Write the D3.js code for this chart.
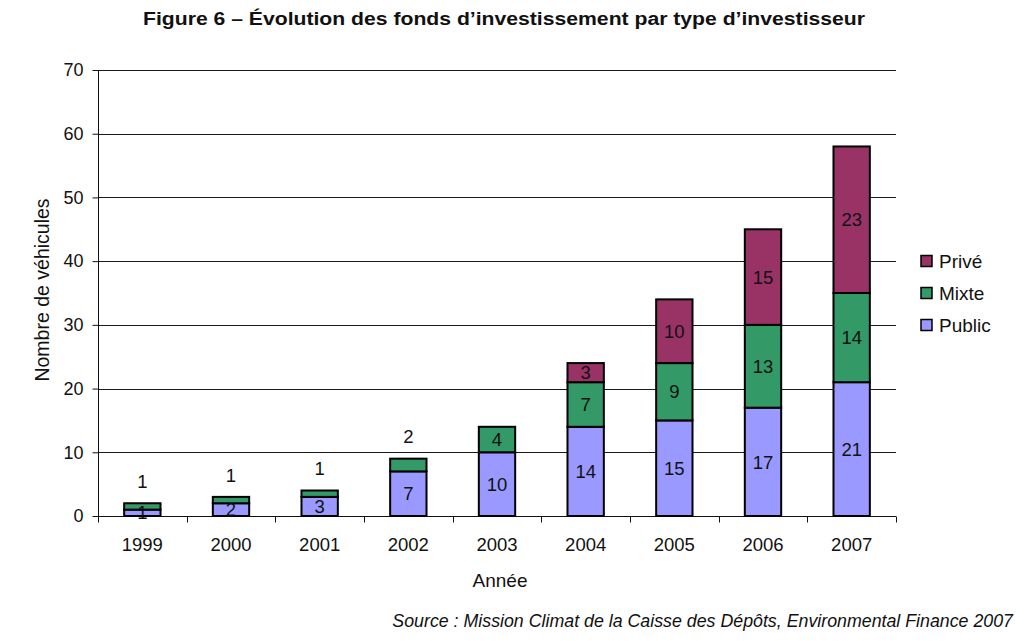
<!DOCTYPE html>
<html>
<head>
<meta charset="utf-8">
<script src="https://cdn.jsdelivr.net/npm/d3@7"></script>
<style>
  body { margin: 0; background: #fff; }
  svg { display: block; }
</style>
</head>
<body>
<div id="chart"></div>
<script>
let years = ["1999", "2000", "2001", "2002", "2003", "2004", "2005", "2006", "2007"];
let series_names = ["Public", "Mixte", "Privé"];
let public_vals = [1, 2, 3, 7, 10, 14, 15, 17, 21];
let mixte_vals = [1, 1, 1, 2, 4, 7, 9, 13, 14];
let prive_vals = [0, 0, 0, 0, 0, 3, 10, 15, 23];
let y_ticks = [0, 10, 20, 30, 40, 50, 60, 70];

let colors = { "Public": "#9999ff", "Mixte": "#339966", "Privé": "#993366" };

let svg_w = 1024, svg_h = 641;
let plot_left = 98, plot_right = 896, plot_top = 70, plot_bottom = 516;
let font = "'Liberation Sans', Arial, sans-serif";
let label_size = "18.5px";

let svg = d3.select("#chart").append("svg")
  .attr("width", svg_w)
  .attr("height", svg_h);

// table for the stack
let rows = years.map((yr, i) => ({ year: yr, "Public": public_vals[i], "Mixte": mixte_vals[i], "Privé": prive_vals[i] }));
let stacked = d3.stack().keys(series_names)(rows);

let x = d3.scaleBand().domain(years).range([plot_left, plot_right]).padding(0);
let y = d3.scaleLinear().domain([0, 70]).range([plot_bottom, plot_top]);
let bar_w = x.bandwidth() * 0.41;

// gridlines
svg.append("g")
  .selectAll("line")
  .data(y_ticks.filter(d => d > 0))
  .join("line")
    .attr("x1", plot_left)
    .attr("x2", plot_right)
    .attr("y1", d => Math.round(y(d)) + 0.5)
    .attr("y2", d => Math.round(y(d)) + 0.5)
    .attr("stroke", "#1a1a1a")
    .attr("stroke-width", 1);

// y axis
let y_axis = svg.append("g")
  .attr("transform", "translate(" + (plot_left + 0.5) + ",0)")
  .call(d3.axisLeft(y).tickValues(y_ticks).tickSize(6).tickPadding(9));
y_axis.selectAll("text").attr("font-family", font).attr("font-size", "18px").attr("fill", "#111");
y_axis.selectAll("line, path").attr("stroke", "#111");
y_axis.select(".domain").attr("d", "M0," + plot_top + "V" + plot_bottom);

// x axis
let x_axis = svg.append("g")
  .attr("transform", "translate(0," + (Math.round(plot_bottom) + 0.5) + ")")
  .call(d3.axisBottom(x).tickSize(0).tickPadding(21));
x_axis.selectAll("text").attr("font-family", font).attr("font-size", label_size).attr("fill", "#111");
x_axis.select(".domain").attr("d", "M" + plot_left + ",0H" + plot_right).attr("stroke", "#111");
// category separator ticks
x_axis.selectAll("line.sep")
  .data(years.map(d => x(d)).concat([plot_right]))
  .join("line")
    .attr("class", "sep")
    .attr("x1", d => Math.round(d) + 0.5)
    .attr("x2", d => Math.round(d) + 0.5)
    .attr("y1", 0)
    .attr("y2", 6)
    .attr("stroke", "#111");

// bars
let layers = svg.append("g")
  .selectAll("g")
  .data(stacked)
  .join("g")
    .attr("fill", d => colors[d.key]);

layers.selectAll("rect")
  .data(d => d.filter(s => s[1] - s[0] > 0))
  .join("rect")
    .attr("x", d => x(d.data.year) + (x.bandwidth() - bar_w) / 2)
    .attr("y", d => y(d[1]))
    .attr("width", bar_w)
    .attr("height", d => y(d[0]) - y(d[1]))
    .attr("stroke", "#000")
    .attr("stroke-width", 2);

// data labels
let label_g = svg.append("g")
  .attr("font-family", font)
  .attr("font-size", label_size)
  .attr("fill", "#111")
  .attr("text-anchor", "middle");

stacked.forEach(layer => {
  layer.forEach(s => {
    let v = s[1] - s[0];
    if (v <= 0) return;
    let cx = x(s.data.year) + x.bandwidth() / 2;
    let cy;
    if (layer.key === "Mixte" && v <= 2 && s.data.year < "2003") {
      cy = y(s[1]) - 22;
    } else {
      cy = (y(s[0]) + y(s[1])) / 2;
    }
    label_g.append("text")
      .attr("x", cx)
      .attr("y", cy)
      .attr("dy", "0.36em")
      .text(v);
  });
});

// legend
let legend = svg.append("g")
  .attr("font-family", font)
  .attr("font-size", "19px")
  .attr("fill", "#111");
let legend_order = ["Privé", "Mixte", "Public"];
legend_order.forEach((name, i) => {
  let cy = 261 + i * 32;
  legend.append("rect")
    .attr("x", 921)
    .attr("y", cy - 5.5)
    .attr("width", 11)
    .attr("height", 11)
    .attr("fill", colors[name])
    .attr("stroke", "#000")
    .attr("stroke-width", 1.5);
  legend.append("text")
    .attr("x", 939)
    .attr("y", cy)
    .attr("dy", "0.36em")
    .text(name);
});

// titles
svg.append("text")
  .attr("x", 504)
  .attr("y", 25)
  .attr("text-anchor", "middle")
  .attr("font-family", font)
  .attr("font-weight", "bold")
  .attr("font-size", "18px")
  .attr("textLength", 722)
  .attr("lengthAdjust", "spacingAndGlyphs")
  .attr("fill", "#111")
  .text("Figure 6 – Évolution des fonds d’investissement par type d’investisseur");

svg.append("text")
  .attr("x", 500)
  .attr("y", 587)
  .attr("text-anchor", "middle")
  .attr("font-family", font)
  .attr("font-size", "19px")
  .attr("fill", "#111")
  .text("Année");

svg.append("text")
  .attr("transform", "translate(49,290) rotate(-90)")
  .attr("text-anchor", "middle")
  .attr("font-family", font)
  .attr("font-size", "19.5px")
  .attr("fill", "#111")
  .text("Nombre de véhicules");

svg.append("text")
  .attr("x", 1013)
  .attr("y", 627)
  .attr("text-anchor", "end")
  .attr("font-family", font)
  .attr("font-style", "italic")
  .attr("font-size", "17.8px")
  .attr("fill", "#111")
  .text("Source : Mission Climat de la Caisse des Dépôts, Environmental Finance 2007");
</script>
</body>
</html>
